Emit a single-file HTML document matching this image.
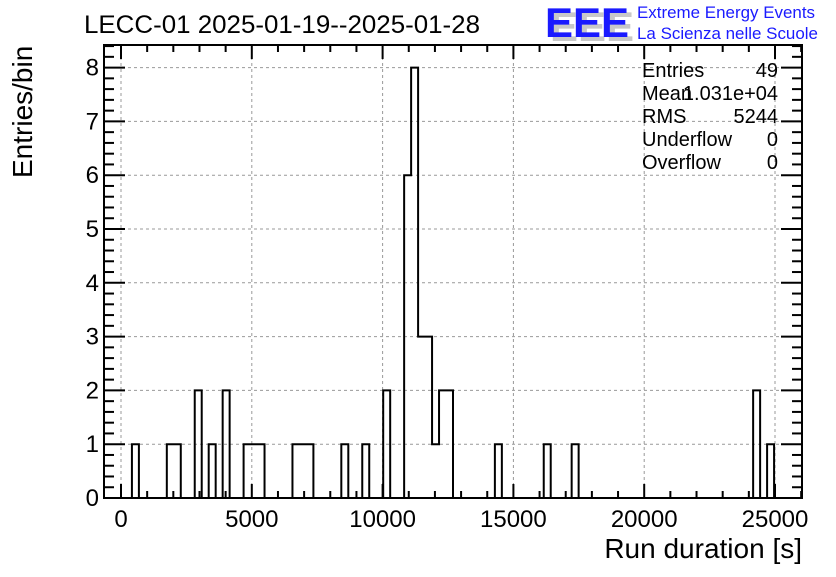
<!DOCTYPE html>
<html><head><meta charset="utf-8"><style>
body{margin:0;background:#fff;}
svg text{font-family:"Liberation Sans",sans-serif;}
</style></head><body>
<svg id="chart" width="836" height="572" viewBox="0 0 836 572" xmlns="http://www.w3.org/2000/svg">
<rect width="836" height="572" fill="#fff"/>
<text x="84" y="33" font-size="25" textLength="396" lengthAdjust="spacingAndGlyphs">LECC-01 2025-01-19--2025-01-28</text>
<g>
<text x="550" y="41" font-size="42" font-weight="bold" fill="#c8c8c8" textLength="84" lengthAdjust="spacingAndGlyphs">EEE</text>
<text x="545" y="37" font-size="42" font-weight="bold" fill="#1a1aff" textLength="84" lengthAdjust="spacingAndGlyphs">EEE</text>
<text x="637" y="18" font-size="17" fill="#1a1aff" textLength="178" lengthAdjust="spacingAndGlyphs">Extreme Energy Events</text>
<text x="637" y="39" font-size="17" fill="#1a1aff" textLength="181" lengthAdjust="spacingAndGlyphs">La Scienza nelle Scuole</text>
</g>
<g id="grid"></g>
<g id="bars"></g>
<g id="axes"></g>
<g font-size="20">
<text x="642" y="77">Entries</text><text x="778" y="77" text-anchor="end">49</text>
<text x="642" y="100">Mean</text><text x="778" y="100" text-anchor="end">1.031e+04</text>
<text x="642" y="123">RMS</text><text x="778" y="123" text-anchor="end">5244</text>
<text x="642" y="146">Underflow</text><text x="778" y="146" text-anchor="end">0</text>
<text x="642" y="169">Overflow</text><text x="778" y="169" text-anchor="end">0</text>
</g>
<text x="802" y="558" font-size="28" text-anchor="end">Run duration [s]</text>
<text transform="translate(32,178) rotate(-90)" font-size="28">Entries/bin</text>
</svg>
<script>
const binIndices=[4,9,10,13,15,17,20,21,22,27,28,29,34,37,40,43,44,45,46,47,48,49,56,63,67,93,95];
const binCounts=[1,1,1,2,1,2,1,1,1,1,1,1,1,1,2,6,8,3,3,1,2,2,1,1,1,2,1];
const xTickLabels=[0,5000,10000,15000,20000,25000];
const yTickLabels=[0,1,2,3,4,5,6,7,8];
const NBINS=100, XMIN=-650, XMAX=26032, YMAX=8.42;
const L=104,R=802,T=45,B=498;
const sx=v=>L+(v-XMIN)/(XMAX-XMIN)*(R-L);
const sy=v=>B-v/YMAX*(B-T);
const NS="http://www.w3.org/2000/svg";
function mk(tag,attrs,parent){const e=document.createElementNS(NS,tag);for(const k in attrs)e.setAttribute(k,attrs[k]);parent.appendChild(e);return e;}
const grid=document.getElementById('grid'),bars=document.getElementById('bars'),axes=document.getElementById('axes');
xTickLabels.forEach(v=>{const g=mk('line',{x1:sx(v),x2:sx(v),y1:T,y2:B,stroke:'#999','stroke-dasharray':'3,3','stroke-width':1},grid);

});
yTickLabels.forEach(v=>{if(v===0)return;const g=mk('line',{x1:L,x2:R,y1:sy(v),y2:sy(v),stroke:'#999','stroke-dasharray':'3,3','stroke-width':1},grid);

});
const bw=(XMAX-XMIN)/NBINS;
const counts=new Array(NBINS).fill(0);
binIndices.forEach((b,i)=>counts[b]=binCounts[i]);
let d=`M${sx(XMIN)},${sy(0)}`;
for(let i=0;i<NBINS;i++){const x0=sx(XMIN+i*bw),x1=sx(XMIN+(i+1)*bw);d+=` L${x0},${sy(counts[i])} L${x1},${sy(counts[i])}`;}
d+=` L${sx(XMAX)},${sy(0)}`;
const p=mk('path',{d:d,fill:'none',stroke:'#000','stroke-width':2},bars);


const fr=mk('rect',{x:L,y:T,width:R-L,height:B-T,fill:'none',stroke:'#000','stroke-width':2},axes);


for(let v=0;v<=26000;v+=1000){const big=v%5000===0,len=big?14:7;
mk('line',{x1:sx(v),x2:sx(v),y1:B,y2:B-len,stroke:'#000','stroke-width':2},axes);
mk('line',{x1:sx(v),x2:sx(v),y1:T,y2:T+len,stroke:'#000','stroke-width':2},axes);}
xTickLabels.forEach(v=>{const t=mk('text',{x:sx(v),y:527,'font-size':24,'text-anchor':'middle'},axes);t.textContent=v;

});
for(let k=0;k<=42;k++){const v=k*0.2;if(v>YMAX)break;const big=k%5===0,len=big?21:10;
mk('line',{x1:L,x2:L+len,y1:sy(v),y2:sy(v),stroke:'#000','stroke-width':2},axes);
mk('line',{x1:R,x2:R-len,y1:sy(v),y2:sy(v),stroke:'#000','stroke-width':2},axes);}
yTickLabels.forEach(v=>{const t=mk('text',{x:99,y:sy(v)+8,'font-size':24,'text-anchor':'end'},axes);t.textContent=v;

});
</script>
</body></html>
